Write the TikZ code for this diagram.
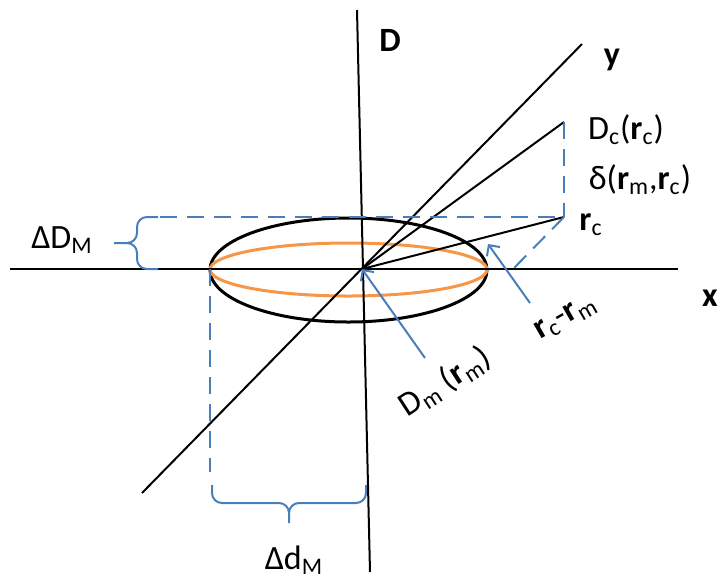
\documentclass[tikz,border=0pt]{standalone}
\usepackage{fontspec}
\setmainfont{Carlito}
\usepackage{xcolor}
\usetikzlibrary{arrows.meta}

\definecolor{lineblue}{HTML}{4A7EBB}
\definecolor{ringorange}{HTML}{F79646}

\begin{document}
\begin{tikzpicture}[x=0.5pt,y=-0.5pt,font=\fontsize{17}{20}\selectfont,
    axis/.style={line width=1pt,black},
    guide/.style={line width=1pt,lineblue,dash pattern=on 8.5pt off 5pt},
    pointer/.style={line width=1pt,lineblue,-{Straight Barb[length=4pt,width=8pt]}},
    bracket/.style={line width=1pt,lineblue,rounded corners=5pt},
    lbl/.style={inner sep=0pt}]
  \useasboundingbox (0,0) rectangle (718,580);

  % points
  \coordinate (O) at (362,269);
  \coordinate (xL) at (10,269);
  \coordinate (xR) at (678,269);
  \coordinate (Dtop) at (357,10);
  \coordinate (Dbot) at (370,572);
  \coordinate (yL) at (142,493);
  \coordinate (yR) at (582,44);
  \coordinate (Dc) at (564,122);
  \coordinate (rc) at (564,217);
  \coordinate (topL) at (160,217);
  \coordinate (xm) at (513,269);
  \coordinate (eL) at (210,269);
  \coordinate (eB) at (210,472);
  \coordinate (tailDm) at (425,358);
  \coordinate (tailrcm) at (530,303);
  \coordinate (ring) at (488,244);

  % ellipses
  \draw[line width=1.5pt] (348.5,270) ellipse [x radius=138.5,y radius=52];
  \draw[line width=1.5pt,ringorange] (348.5,269.5) ellipse [x radius=138.5,y radius=26.5];

  % axes and rays
  \draw[axis] (xL) -- (xR);
  \draw[axis] (Dtop) -- (Dbot);
  \draw[axis] (yL) -- (yR);
  \draw[axis] (O) -- (Dc);
  \draw[axis] (O) -- (rc);

  % guides
  \draw[guide] (Dc) -- (rc);
  \draw[guide] (topL) -- (rc);
  \draw[guide] (rc) -- (xm);
  \draw[guide] (eL) -- (eB);

  % braces
  \draw[bracket] (158,217) -- (137,217) -- (137,243) -- (114,243);
  \draw[bracket] (158,269) -- (137,269) -- (137,243) -- (125,243);
  \draw[bracket] (212,485) -- (212,503) -- (289,503) -- (289,523);
  \draw[bracket] (366,485) -- (366,503) -- (289,503) -- (289,512);

  % arrows
  \draw[pointer] (tailDm) -- (O);
  \draw[pointer] (tailrcm) -- (ring);

  % labels
  \node[lbl] (labD) at (390,40) {\textbf{D}};
  \node[lbl] (laby) at (612,60) {\textbf{y}};
  \node[lbl] (labx) at (710,298) {\textbf{x}};
  \node[lbl] (labDc) at (626,130) {D\textsubscript{c}(\textbf{r}\textsubscript{c})};
  \node[lbl] (labdelta) at (640,180) {δ(\textbf{r}\textsubscript{m},\textbf{r}\textsubscript{c})};
  \node[lbl] (labrc) at (591,225) {\textbf{r}\textsubscript{c}};
  \node[lbl,rotate=30] (labrcm) at (566,318) {\textbf{r}\textsubscript{c}-\textbf{r}\textsubscript{m}};
  \node[lbl,rotate=33] (labDm) at (445,382) {D\textsubscript{m} (\textbf{r}\textsubscript{m})};
  \node[lbl] (labDM) at (62,240) {ΔD\textsubscript{M}};
  \node[lbl] (labdM) at (294,560) {Δd\textsubscript{M}};
\end{tikzpicture}
\end{document}
